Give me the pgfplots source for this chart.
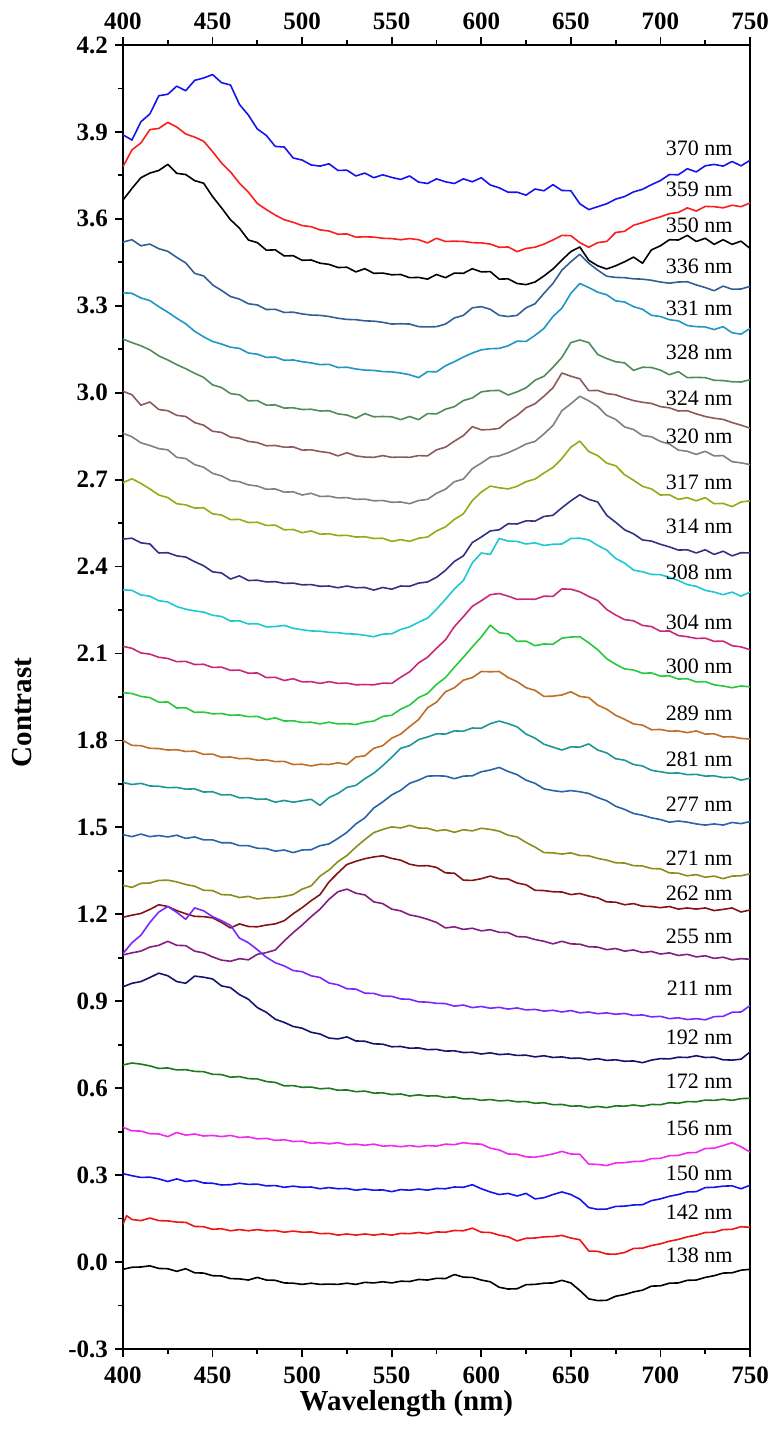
\documentclass[border=0pt]{standalone}
\usepackage{pgfplots}
\pgfplotsset{compat=1.18}
\usepackage{fontspec}
\setmainfont{Liberation Serif}

\definecolor{c370}{RGB}{20,20,240}
\definecolor{c359}{RGB}{250,30,30}
\definecolor{c350}{RGB}{0,0,0}
\definecolor{c336}{RGB}{50,95,150}
\definecolor{c331}{RGB}{30,150,200}
\definecolor{c328}{RGB}{80,140,90}
\definecolor{c324}{RGB}{140,90,90}
\definecolor{c320}{RGB}{128,128,128}
\definecolor{c317}{RGB}{150,170,20}
\definecolor{c314}{RGB}{50,50,130}
\definecolor{c308}{RGB}{30,200,210}
\definecolor{c304}{RGB}{200,40,120}
\definecolor{c300}{RGB}{40,200,60}
\definecolor{c289}{RGB}{190,110,40}
\definecolor{c281}{RGB}{30,150,150}
\definecolor{c277}{RGB}{40,100,170}
\definecolor{c271}{RGB}{140,140,30}
\definecolor{c262}{RGB}{130,20,20}
\definecolor{c255}{RGB}{130,30,130}
\definecolor{c211}{RGB}{120,40,255}
\definecolor{c192}{RGB}{20,20,110}
\definecolor{c172}{RGB}{30,120,30}
\definecolor{c156}{RGB}{240,40,240}
\definecolor{c150}{RGB}{20,20,240}
\definecolor{c142}{RGB}{240,20,20}
\definecolor{c138}{RGB}{0,0,0}

\newcommand{\tickfont}{\fontsize{12.5}{15}\selectfont\bfseries}
\newcommand{\labfont}{\fontsize{14.5}{17}\selectfont\bfseries}
\newcommand{\curvefont}{\fontsize{11}{13}\selectfont}

\begin{document}
\begin{tikzpicture}
\begin{axis}[
  name=ax,
  scale only axis,
  width=313.5pt, height=652pt,
  xmin=400, xmax=750, ymin=-0.3, ymax=4.2,
  xtick={400,450,500,550,600,650,700,750},
  ytick={-0.3,0,0.3,0.6,0.9,1.2,1.5,1.8,2.1,2.4,2.7,3.0,3.3,3.6,3.9,4.2},
  minor x tick num=1, minor y tick num=1,
  xtick pos=bottom, ytick pos=left,
  tick align=outside,
  major tick length=4pt, minor tick length=2.5pt,
  axis line style={line width=1pt},
  every tick/.style={black, line width=0.9pt},
  ticklabel style={font=\tickfont},
  /pgf/number format/assume math mode=true,
  xticklabel style={/pgf/number format/1000 sep={}, yshift=-1.5pt},
  yticklabel style={/pgf/number format/.cd, fixed, fixed zerofill, precision=1},
  xlabel={Wavelength (nm)},
  ylabel={Contrast},
  xlabel style={font=\labfont, at={(axis description cs:0.452,-0.042)}, anchor=center},
  ylabel style={font=\labfont, at={(axis description cs:-0.161,0.488)}, anchor=center},
  every axis plot/.append style={line width=0.8pt, line join=round, no markers},
]
\addplot[c370] coordinates {(400,3.89)(405,3.872)(410,3.935)(415,3.962)(420,4.025)(425,4.03)(430,4.058)(435,4.042)(440,4.078)(445,4.086)(450,4.098)(455,4.07)(460,4.062)(465,3.995)(470,3.958)(475,3.91)(480,3.888)(485,3.85)(490,3.848)(495,3.81)(500,3.803)(505,3.786)(510,3.782)(515,3.79)(520,3.767)(525,3.768)(530,3.748)(535,3.758)(540,3.742)(545,3.752)(550,3.743)(555,3.736)(560,3.748)(565,3.727)(570,3.722)(575,3.738)(580,3.728)(585,3.722)(590,3.738)(595,3.728)(600,3.742)(605,3.717)(610,3.707)(615,3.692)(620,3.692)(625,3.682)(630,3.703)(635,3.697)(640,3.718)(645,3.698)(650,3.697)(655,3.652)(660,3.632)(665,3.642)(670,3.652)(675,3.668)(680,3.677)(685,3.693)(690,3.702)(695,3.718)(700,3.732)(705,3.753)(710,3.752)(715,3.773)(720,3.762)(725,3.783)(730,3.788)(735,3.782)(740,3.798)(745,3.783)(750,3.802)};
\addplot[c359] coordinates {(400,3.78)(405,3.838)(410,3.862)(415,3.908)(420,3.912)(425,3.933)(430,3.917)(435,3.893)(440,3.882)(445,3.868)(450,3.832)(455,3.793)(460,3.762)(465,3.723)(470,3.692)(475,3.653)(480,3.632)(485,3.613)(490,3.597)(495,3.588)(500,3.577)(505,3.573)(510,3.562)(515,3.558)(520,3.547)(525,3.548)(530,3.537)(535,3.538)(540,3.537)(545,3.533)(550,3.532)(555,3.528)(560,3.532)(565,3.528)(570,3.517)(575,3.533)(580,3.522)(585,3.523)(590,3.522)(595,3.518)(600,3.517)(605,3.513)(610,3.502)(615,3.503)(620,3.487)(625,3.498)(630,3.502)(635,3.513)(640,3.527)(645,3.543)(650,3.542)(655,3.518)(660,3.502)(665,3.518)(670,3.522)(675,3.553)(680,3.557)(685,3.578)(690,3.587)(695,3.598)(700,3.607)(705,3.618)(710,3.622)(715,3.638)(720,3.627)(725,3.643)(730,3.642)(735,3.638)(740,3.647)(745,3.642)(750,3.655)};
\addplot[c350] coordinates {(400,3.665)(405,3.705)(410,3.742)(415,3.758)(420,3.767)(425,3.788)(430,3.757)(435,3.753)(440,3.732)(445,3.723)(450,3.677)(455,3.638)(460,3.597)(465,3.568)(470,3.527)(475,3.518)(480,3.492)(485,3.493)(490,3.472)(495,3.473)(500,3.457)(505,3.458)(510,3.447)(515,3.443)(520,3.432)(525,3.433)(530,3.417)(535,3.428)(540,3.412)(545,3.413)(550,3.407)(555,3.408)(560,3.397)(565,3.398)(570,3.392)(575,3.408)(580,3.397)(585,3.413)(590,3.412)(595,3.428)(600,3.417)(605,3.418)(610,3.392)(615,3.393)(620,3.377)(625,3.373)(630,3.382)(635,3.403)(640,3.427)(645,3.458)(650,3.487)(655,3.503)(660,3.457)(665,3.438)(670,3.427)(675,3.438)(680,3.452)(685,3.468)(690,3.447)(695,3.493)(700,3.507)(705,3.528)(710,3.527)(715,3.543)(720,3.522)(725,3.533)(730,3.512)(735,3.528)(740,3.512)(745,3.523)(750,3.498)};
\addplot[c336] coordinates {(400,3.52)(405,3.528)(410,3.507)(415,3.513)(420,3.497)(425,3.488)(430,3.467)(435,3.448)(440,3.412)(445,3.403)(450,3.372)(455,3.353)(460,3.332)(465,3.323)(470,3.307)(475,3.303)(480,3.287)(485,3.288)(490,3.277)(495,3.278)(500,3.272)(505,3.268)(510,3.267)(515,3.263)(520,3.257)(525,3.253)(530,3.252)(535,3.248)(540,3.247)(545,3.243)(550,3.237)(555,3.238)(560,3.237)(565,3.228)(570,3.227)(575,3.228)(580,3.237)(585,3.258)(590,3.267)(595,3.293)(600,3.297)(605,3.288)(610,3.267)(615,3.263)(620,3.267)(625,3.293)(630,3.307)(635,3.343)(640,3.377)(645,3.423)(650,3.452)(655,3.478)(660,3.447)(665,3.423)(670,3.402)(675,3.398)(680,3.397)(685,3.393)(690,3.392)(695,3.388)(700,3.382)(705,3.378)(710,3.382)(715,3.383)(720,3.372)(725,3.363)(730,3.352)(735,3.368)(740,3.357)(745,3.358)(750,3.367)};
\addplot[c331] coordinates {(400,3.345)(405,3.343)(410,3.327)(415,3.318)(420,3.297)(425,3.278)(430,3.257)(435,3.238)(440,3.212)(445,3.193)(450,3.177)(455,3.168)(460,3.157)(465,3.153)(470,3.137)(475,3.133)(480,3.122)(485,3.123)(490,3.112)(495,3.113)(500,3.107)(505,3.103)(510,3.097)(515,3.098)(520,3.087)(525,3.088)(530,3.082)(535,3.078)(540,3.077)(545,3.073)(550,3.072)(555,3.068)(560,3.062)(565,3.052)(570,3.073)(575,3.072)(580,3.093)(585,3.107)(590,3.123)(595,3.137)(600,3.148)(605,3.152)(610,3.153)(615,3.162)(620,3.178)(625,3.177)(630,3.198)(635,3.222)(640,3.263)(645,3.292)(650,3.343)(655,3.377)(660,3.363)(665,3.347)(670,3.338)(675,3.317)(680,3.313)(685,3.297)(690,3.288)(695,3.267)(700,3.263)(705,3.252)(710,3.248)(715,3.232)(720,3.228)(725,3.227)(730,3.218)(735,3.228)(740,3.207)(745,3.202)(750,3.222)};
\addplot[c328] coordinates {(400,3.185)(405,3.173)(410,3.162)(415,3.148)(420,3.127)(425,3.113)(430,3.097)(435,3.083)(440,3.067)(445,3.053)(450,3.027)(455,3.018)(460,2.997)(465,2.993)(470,2.972)(475,2.973)(480,2.957)(485,2.958)(490,2.947)(495,2.948)(500,2.942)(505,2.943)(510,2.937)(515,2.938)(520,2.927)(525,2.923)(530,2.912)(535,2.928)(540,2.917)(545,2.918)(550,2.917)(555,2.907)(560,2.918)(565,2.907)(570,2.928)(575,2.927)(580,2.943)(585,2.952)(590,2.973)(595,2.982)(600,3.003)(605,3.007)(610,3.008)(615,2.992)(620,3.003)(625,3.017)(630,3.043)(635,3.057)(640,3.088)(645,3.122)(650,3.173)(655,3.182)(660,3.173)(665,3.132)(670,3.118)(675,3.107)(680,3.103)(685,3.077)(690,3.088)(695,3.087)(700,3.078)(705,3.062)(710,3.073)(715,3.052)(720,3.053)(725,3.052)(730,3.043)(735,3.042)(740,3.038)(745,3.037)(750,3.045)};
\addplot[c324] coordinates {(400,3.005)(405,2.993)(410,2.957)(415,2.968)(420,2.942)(425,2.938)(430,2.922)(435,2.918)(440,2.897)(445,2.888)(450,2.867)(455,2.863)(460,2.847)(465,2.843)(470,2.832)(475,2.828)(480,2.817)(485,2.818)(490,2.812)(495,2.813)(500,2.802)(505,2.803)(510,2.797)(515,2.793)(520,2.782)(525,2.793)(530,2.782)(535,2.778)(540,2.777)(545,2.783)(550,2.777)(555,2.778)(560,2.777)(565,2.783)(570,2.782)(575,2.803)(580,2.812)(585,2.833)(590,2.852)(595,2.883)(600,2.872)(605,2.873)(610,2.877)(615,2.903)(620,2.922)(625,2.948)(630,2.962)(635,2.988)(640,3.017)(645,3.068)(650,3.057)(655,3.048)(660,3.007)(665,3.008)(670,2.997)(675,2.993)(680,2.982)(685,2.973)(690,2.967)(695,2.963)(700,2.952)(705,2.948)(710,2.937)(715,2.938)(720,2.927)(725,2.918)(730,2.912)(735,2.908)(740,2.897)(745,2.888)(750,2.878)};
\addplot[c320] coordinates {(400,2.86)(405,2.848)(410,2.827)(415,2.818)(420,2.807)(425,2.803)(430,2.777)(435,2.773)(440,2.752)(445,2.743)(450,2.722)(455,2.713)(460,2.697)(465,2.693)(470,2.682)(475,2.678)(480,2.667)(485,2.668)(490,2.657)(495,2.658)(500,2.647)(505,2.653)(510,2.642)(515,2.643)(520,2.637)(525,2.638)(530,2.632)(535,2.633)(540,2.627)(545,2.628)(550,2.622)(555,2.623)(560,2.617)(565,2.628)(570,2.632)(575,2.653)(580,2.667)(585,2.693)(590,2.702)(595,2.738)(600,2.757)(605,2.778)(610,2.782)(615,2.793)(620,2.807)(625,2.823)(630,2.832)(635,2.858)(640,2.887)(645,2.938)(650,2.962)(655,2.988)(660,2.972)(665,2.953)(670,2.922)(675,2.908)(680,2.882)(685,2.873)(690,2.852)(695,2.848)(700,2.832)(705,2.823)(710,2.802)(715,2.798)(720,2.787)(725,2.798)(730,2.782)(735,2.783)(740,2.762)(745,2.758)(750,2.752)};
\addplot[c317] coordinates {(400,2.69)(405,2.703)(410,2.687)(415,2.668)(420,2.647)(425,2.638)(430,2.617)(435,2.613)(440,2.602)(445,2.603)(450,2.582)(455,2.578)(460,2.562)(465,2.563)(470,2.552)(475,2.553)(480,2.542)(485,2.543)(490,2.527)(495,2.528)(500,2.517)(505,2.523)(510,2.512)(515,2.513)(520,2.507)(525,2.508)(530,2.502)(535,2.503)(540,2.497)(545,2.498)(550,2.487)(555,2.493)(560,2.487)(565,2.498)(570,2.502)(575,2.523)(580,2.537)(585,2.563)(590,2.582)(595,2.628)(600,2.657)(605,2.678)(610,2.672)(615,2.668)(620,2.677)(625,2.693)(630,2.702)(635,2.723)(640,2.742)(645,2.773)(650,2.812)(655,2.833)(660,2.797)(665,2.783)(670,2.757)(675,2.748)(680,2.717)(685,2.698)(690,2.677)(695,2.668)(700,2.647)(705,2.648)(710,2.632)(715,2.638)(720,2.627)(725,2.638)(730,2.617)(735,2.618)(740,2.607)(745,2.623)(750,2.627)};
\addplot[c314] coordinates {(400,2.495)(405,2.498)(410,2.482)(415,2.478)(420,2.447)(425,2.448)(430,2.437)(435,2.433)(440,2.417)(445,2.403)(450,2.382)(455,2.378)(460,2.357)(465,2.368)(470,2.352)(475,2.353)(480,2.347)(485,2.348)(490,2.342)(495,2.343)(500,2.337)(505,2.338)(510,2.332)(515,2.333)(520,2.327)(525,2.333)(530,2.327)(535,2.328)(540,2.319)(545,2.328)(550,2.322)(555,2.333)(560,2.332)(565,2.343)(570,2.347)(575,2.363)(580,2.387)(585,2.418)(590,2.437)(595,2.483)(600,2.502)(605,2.523)(610,2.527)(615,2.548)(620,2.547)(625,2.558)(630,2.557)(635,2.573)(640,2.577)(645,2.603)(650,2.627)(655,2.648)(660,2.632)(665,2.623)(670,2.577)(675,2.553)(680,2.527)(685,2.513)(690,2.492)(695,2.488)(700,2.477)(705,2.468)(710,2.457)(715,2.458)(720,2.447)(725,2.458)(730,2.442)(735,2.453)(740,2.437)(745,2.448)(750,2.447)};
\addplot[c308] coordinates {(400,2.32)(405,2.318)(410,2.302)(415,2.298)(420,2.282)(425,2.278)(430,2.262)(435,2.253)(440,2.247)(445,2.243)(450,2.232)(455,2.228)(460,2.212)(465,2.213)(470,2.202)(475,2.203)(480,2.192)(485,2.193)(490,2.197)(495,2.187)(500,2.182)(505,2.178)(510,2.177)(515,2.173)(520,2.172)(525,2.168)(530,2.167)(535,2.163)(540,2.158)(545,2.167)(550,2.168)(555,2.183)(560,2.192)(565,2.208)(570,2.222)(575,2.253)(580,2.287)(585,2.323)(590,2.352)(595,2.413)(600,2.447)(605,2.442)(610,2.497)(615,2.488)(620,2.487)(625,2.478)(630,2.482)(635,2.473)(640,2.477)(645,2.478)(650,2.497)(655,2.498)(660,2.492)(665,2.473)(670,2.457)(675,2.428)(680,2.412)(685,2.388)(690,2.382)(695,2.373)(700,2.372)(705,2.363)(710,2.352)(715,2.338)(720,2.332)(725,2.318)(730,2.312)(735,2.303)(740,2.312)(745,2.298)(750,2.312)};
\addplot[c304] coordinates {(400,2.125)(405,2.118)(410,2.102)(415,2.098)(420,2.087)(425,2.083)(430,2.072)(435,2.073)(440,2.062)(445,2.063)(450,2.052)(455,2.053)(460,2.042)(465,2.043)(470,2.032)(475,2.033)(480,2.017)(485,2.018)(490,2.007)(495,2.013)(500,2.002)(505,2.003)(510,1.997)(515,2.003)(520,1.997)(525,1.998)(530,1.992)(535,1.993)(540,1.992)(545,1.998)(550,1.997)(555,2.018)(560,2.037)(565,2.068)(570,2.087)(575,2.118)(580,2.147)(585,2.193)(590,2.227)(595,2.263)(600,2.282)(605,2.303)(610,2.307)(615,2.298)(620,2.287)(625,2.288)(630,2.287)(635,2.298)(640,2.297)(645,2.323)(650,2.322)(655,2.313)(660,2.297)(665,2.283)(670,2.252)(675,2.233)(680,2.217)(685,2.213)(690,2.197)(695,2.193)(700,2.177)(705,2.178)(710,2.162)(715,2.158)(720,2.152)(725,2.153)(730,2.142)(735,2.143)(740,2.127)(745,2.123)(750,2.113)};
\addplot[c300] coordinates {(400,1.965)(405,1.962)(410,1.952)(415,1.948)(420,1.932)(425,1.933)(430,1.912)(435,1.913)(440,1.897)(445,1.898)(450,1.892)(455,1.893)(460,1.887)(465,1.888)(470,1.882)(475,1.883)(480,1.872)(485,1.878)(490,1.867)(495,1.868)(500,1.862)(505,1.863)(510,1.857)(515,1.863)(520,1.857)(525,1.858)(530,1.855)(535,1.863)(540,1.867)(545,1.883)(550,1.887)(555,1.908)(560,1.922)(565,1.948)(570,1.962)(575,1.993)(580,2.017)(585,2.053)(590,2.087)(595,2.123)(600,2.157)(605,2.198)(610,2.172)(615,2.168)(620,2.142)(625,2.143)(630,2.127)(635,2.133)(640,2.132)(645,2.153)(650,2.157)(655,2.158)(660,2.137)(665,2.113)(670,2.082)(675,2.063)(680,2.047)(685,2.043)(690,2.032)(695,2.033)(700,2.022)(705,2.023)(710,2.012)(715,2.013)(720,2.002)(725,2.003)(730,1.992)(735,1.988)(740,1.982)(745,1.988)(750,1.985)};
\addplot[c289] coordinates {(400,1.80)(405,1.783)(410,1.782)(415,1.773)(420,1.772)(425,1.767)(430,1.768)(435,1.762)(440,1.763)(445,1.752)(450,1.753)(455,1.742)(460,1.743)(465,1.737)(470,1.738)(475,1.732)(480,1.733)(485,1.727)(490,1.728)(495,1.717)(500,1.718)(505,1.712)(510,1.718)(515,1.717)(520,1.723)(525,1.717)(530,1.743)(535,1.747)(540,1.773)(545,1.782)(550,1.808)(555,1.822)(560,1.848)(565,1.872)(570,1.913)(575,1.932)(580,1.968)(585,1.982)(590,2.008)(595,2.017)(600,2.038)(605,2.037)(610,2.038)(615,2.017)(620,2.003)(625,1.982)(630,1.973)(635,1.952)(640,1.953)(645,1.957)(650,1.968)(655,1.952)(660,1.948)(665,1.922)(670,1.908)(675,1.887)(680,1.873)(685,1.857)(690,1.853)(695,1.837)(700,1.838)(705,1.832)(710,1.833)(715,1.827)(720,1.833)(725,1.822)(730,1.823)(735,1.812)(740,1.813)(745,1.807)(750,1.805)};
\addplot[c281] coordinates {(400,1.655)(405,1.648)(410,1.652)(415,1.643)(420,1.642)(425,1.637)(430,1.638)(435,1.632)(440,1.633)(445,1.622)(450,1.623)(455,1.612)(460,1.613)(465,1.602)(470,1.603)(475,1.597)(480,1.598)(485,1.587)(490,1.593)(495,1.587)(500,1.592)(505,1.597)(510,1.576)(515,1.603)(520,1.617)(525,1.638)(530,1.645)(535,1.668)(540,1.687)(545,1.713)(550,1.742)(555,1.773)(560,1.782)(565,1.803)(570,1.812)(575,1.823)(580,1.822)(585,1.833)(590,1.832)(595,1.843)(600,1.842)(605,1.858)(610,1.867)(615,1.858)(620,1.847)(625,1.822)(630,1.808)(635,1.787)(640,1.777)(645,1.767)(650,1.778)(655,1.777)(660,1.788)(665,1.767)(670,1.757)(675,1.737)(680,1.732)(685,1.717)(690,1.712)(695,1.697)(700,1.692)(705,1.687)(710,1.688)(715,1.682)(720,1.683)(725,1.677)(730,1.678)(735,1.672)(740,1.673)(745,1.663)(750,1.67)};
\addplot[c277] coordinates {(400,1.475)(405,1.468)(410,1.477)(415,1.468)(420,1.472)(425,1.467)(430,1.473)(435,1.462)(440,1.467)(445,1.457)(450,1.457)(455,1.447)(460,1.447)(465,1.437)(470,1.437)(475,1.428)(480,1.427)(485,1.418)(490,1.422)(495,1.413)(500,1.422)(505,1.423)(510,1.437)(515,1.443)(520,1.462)(525,1.483)(530,1.512)(535,1.533)(540,1.567)(545,1.588)(550,1.612)(555,1.628)(560,1.652)(565,1.663)(570,1.677)(575,1.678)(580,1.677)(585,1.668)(590,1.677)(595,1.678)(600,1.692)(605,1.698)(610,1.707)(615,1.693)(620,1.682)(625,1.663)(630,1.652)(635,1.633)(640,1.627)(645,1.623)(650,1.627)(655,1.623)(660,1.617)(665,1.603)(670,1.592)(675,1.573)(680,1.562)(685,1.548)(690,1.542)(695,1.533)(700,1.527)(705,1.518)(710,1.522)(715,1.518)(720,1.512)(725,1.508)(730,1.512)(735,1.508)(740,1.517)(745,1.513)(750,1.52)};
\addplot[c271] coordinates {(400,1.30)(405,1.293)(410,1.307)(415,1.308)(420,1.317)(425,1.318)(430,1.312)(435,1.303)(440,1.297)(445,1.283)(450,1.282)(455,1.268)(460,1.267)(465,1.258)(470,1.262)(475,1.253)(480,1.257)(485,1.258)(490,1.262)(495,1.268)(500,1.287)(505,1.298)(510,1.332)(515,1.353)(520,1.382)(525,1.403)(530,1.432)(535,1.458)(540,1.482)(545,1.493)(550,1.502)(555,1.498)(560,1.507)(565,1.498)(570,1.497)(575,1.488)(580,1.492)(585,1.483)(590,1.492)(595,1.488)(600,1.497)(605,1.493)(610,1.487)(615,1.473)(620,1.467)(625,1.448)(630,1.432)(635,1.413)(640,1.412)(645,1.408)(650,1.412)(655,1.403)(660,1.402)(665,1.393)(670,1.387)(675,1.378)(680,1.377)(685,1.368)(690,1.367)(695,1.358)(700,1.357)(705,1.343)(710,1.342)(715,1.333)(720,1.337)(725,1.328)(730,1.332)(735,1.323)(740,1.332)(745,1.333)(750,1.34)};
\addplot[c262] coordinates {(400,1.19)(405,1.197)(410,1.203)(415,1.217)(420,1.233)(425,1.227)(430,1.213)(435,1.202)(440,1.193)(445,1.192)(450,1.188)(455,1.172)(460,1.153)(465,1.167)(470,1.158)(475,1.157)(480,1.163)(485,1.167)(490,1.178)(495,1.202)(500,1.223)(505,1.247)(510,1.268)(515,1.312)(520,1.343)(525,1.372)(530,1.383)(535,1.392)(540,1.398)(545,1.402)(550,1.393)(555,1.387)(560,1.373)(565,1.367)(570,1.368)(575,1.362)(580,1.343)(585,1.342)(590,1.318)(595,1.317)(600,1.323)(605,1.332)(610,1.323)(615,1.322)(620,1.308)(625,1.302)(630,1.283)(635,1.282)(640,1.278)(645,1.277)(650,1.268)(655,1.272)(660,1.263)(665,1.257)(670,1.243)(675,1.242)(680,1.233)(685,1.237)(690,1.228)(695,1.227)(700,1.223)(705,1.227)(710,1.218)(715,1.222)(720,1.218)(725,1.222)(730,1.213)(735,1.217)(740,1.222)(745,1.208)(750,1.215)};
\addplot[c255] coordinates {(400,1.06)(405,1.067)(410,1.073)(415,1.087)(420,1.093)(425,1.107)(430,1.093)(435,1.092)(440,1.073)(445,1.067)(450,1.053)(455,1.042)(460,1.038)(465,1.047)(470,1.043)(475,1.062)(480,1.068)(485,1.077)(490,1.108)(495,1.137)(500,1.163)(505,1.192)(510,1.218)(515,1.252)(520,1.278)(525,1.287)(530,1.273)(535,1.267)(540,1.243)(545,1.237)(550,1.218)(555,1.212)(560,1.198)(565,1.192)(570,1.183)(575,1.172)(580,1.153)(585,1.157)(590,1.148)(595,1.152)(600,1.143)(605,1.147)(610,1.138)(615,1.137)(620,1.123)(625,1.122)(630,1.113)(635,1.107)(640,1.098)(645,1.107)(650,1.098)(655,1.097)(660,1.088)(665,1.087)(670,1.078)(675,1.082)(680,1.073)(685,1.077)(690,1.068)(695,1.072)(700,1.063)(705,1.067)(710,1.058)(715,1.062)(720,1.053)(725,1.057)(730,1.048)(735,1.052)(740,1.043)(745,1.047)(750,1.045)};
\addplot[c211] coordinates {(400,1.065)(405,1.102)(410,1.128)(415,1.172)(420,1.208)(425,1.227)(430,1.207)(435,1.183)(440,1.222)(445,1.212)(450,1.192)(455,1.178)(460,1.162)(465,1.118)(470,1.102)(475,1.078)(480,1.052)(485,1.033)(490,1.022)(495,1.006)(500,1.002)(505,0.988)(510,0.982)(515,0.963)(520,0.957)(525,0.943)(530,0.942)(535,0.928)(540,0.927)(545,0.918)(550,0.917)(555,0.908)(560,0.907)(565,0.898)(570,0.897)(575,0.893)(580,0.892)(585,0.883)(590,0.887)(595,0.878)(600,0.882)(605,0.876)(610,0.879)(615,0.873)(620,0.877)(625,0.87)(630,0.872)(635,0.866)(640,0.869)(645,0.863)(650,0.868)(655,0.86)(660,0.863)(665,0.857)(670,0.86)(675,0.855)(680,0.858)(685,0.851)(690,0.853)(695,0.846)(700,0.848)(705,0.84)(710,0.843)(715,0.837)(720,0.84)(725,0.836)(730,0.847)(735,0.848)(740,0.862)(745,0.863)(750,0.885)};
\addplot[c192] coordinates {(400,0.95)(405,0.962)(410,0.968)(415,0.982)(420,0.997)(425,0.988)(430,0.968)(435,0.962)(440,0.987)(445,0.983)(450,0.977)(455,0.953)(460,0.947)(465,0.923)(470,0.907)(475,0.878)(480,0.862)(485,0.838)(490,0.827)(495,0.813)(500,0.807)(505,0.793)(510,0.787)(515,0.773)(520,0.77)(525,0.777)(530,0.763)(535,0.762)(540,0.753)(545,0.752)(550,0.743)(555,0.744)(560,0.738)(565,0.739)(570,0.733)(575,0.734)(580,0.728)(585,0.729)(590,0.723)(595,0.724)(600,0.718)(605,0.722)(610,0.716)(615,0.718)(620,0.713)(625,0.714)(630,0.708)(635,0.712)(640,0.706)(645,0.708)(650,0.703)(655,0.704)(660,0.698)(665,0.702)(670,0.696)(675,0.698)(680,0.693)(685,0.694)(690,0.688)(695,0.697)(700,0.702)(705,0.701)(710,0.707)(715,0.706)(720,0.712)(725,0.706)(730,0.707)(735,0.698)(740,0.697)(745,0.7)(750,0.725)};
\addplot[c172] coordinates {(400,0.68)(405,0.687)(410,0.683)(415,0.677)(420,0.668)(425,0.67)(430,0.663)(435,0.664)(440,0.658)(445,0.657)(450,0.648)(455,0.647)(460,0.638)(465,0.64)(470,0.633)(475,0.632)(480,0.623)(485,0.62)(490,0.608)(495,0.609)(500,0.603)(505,0.604)(510,0.598)(515,0.6)(520,0.593)(525,0.594)(530,0.588)(535,0.59)(540,0.583)(545,0.584)(550,0.578)(555,0.58)(560,0.573)(565,0.577)(570,0.573)(575,0.574)(580,0.568)(585,0.57)(590,0.563)(595,0.564)(600,0.558)(605,0.561)(610,0.556)(615,0.558)(620,0.553)(625,0.554)(630,0.548)(635,0.55)(640,0.543)(645,0.544)(650,0.538)(655,0.539)(660,0.533)(665,0.537)(670,0.533)(675,0.539)(680,0.538)(685,0.542)(690,0.538)(695,0.544)(700,0.543)(705,0.55)(710,0.548)(715,0.554)(720,0.553)(725,0.559)(730,0.558)(735,0.562)(740,0.558)(745,0.564)(750,0.565)};
\addplot[c156] coordinates {(400,0.465)(405,0.453)(410,0.452)(415,0.443)(420,0.442)(425,0.433)(430,0.447)(435,0.438)(440,0.442)(445,0.435)(450,0.437)(455,0.433)(460,0.437)(465,0.43)(470,0.432)(475,0.425)(480,0.427)(485,0.42)(490,0.422)(495,0.416)(500,0.417)(505,0.41)(510,0.412)(515,0.408)(520,0.412)(525,0.405)(530,0.407)(535,0.403)(540,0.407)(545,0.4)(550,0.402)(555,0.398)(560,0.402)(565,0.398)(570,0.402)(575,0.4)(580,0.407)(585,0.405)(590,0.412)(595,0.408)(600,0.407)(605,0.393)(610,0.387)(615,0.373)(620,0.372)(625,0.363)(630,0.362)(635,0.367)(640,0.373)(645,0.382)(650,0.373)(655,0.372)(660,0.338)(665,0.337)(670,0.333)(675,0.342)(680,0.343)(685,0.347)(690,0.348)(695,0.357)(700,0.358)(705,0.367)(710,0.368)(715,0.377)(720,0.378)(725,0.392)(730,0.393)(735,0.402)(740,0.412)(745,0.398)(750,0.38)};
\addplot[c150] coordinates {(400,0.305)(405,0.298)(410,0.292)(415,0.293)(420,0.287)(425,0.278)(430,0.287)(435,0.278)(440,0.282)(445,0.273)(450,0.272)(455,0.266)(460,0.267)(465,0.272)(470,0.268)(475,0.269)(480,0.263)(485,0.264)(490,0.258)(495,0.262)(500,0.258)(505,0.259)(510,0.253)(515,0.257)(520,0.253)(525,0.254)(530,0.248)(535,0.252)(540,0.248)(545,0.249)(550,0.243)(555,0.25)(560,0.248)(565,0.252)(570,0.248)(575,0.254)(580,0.253)(585,0.259)(590,0.258)(595,0.267)(600,0.253)(605,0.242)(610,0.233)(615,0.237)(620,0.228)(625,0.237)(630,0.218)(635,0.222)(640,0.233)(645,0.242)(650,0.233)(655,0.217)(660,0.188)(665,0.182)(670,0.183)(675,0.192)(680,0.193)(685,0.197)(690,0.198)(695,0.212)(700,0.218)(705,0.227)(710,0.233)(715,0.242)(720,0.243)(725,0.257)(730,0.258)(735,0.262)(740,0.263)(745,0.253)(750,0.265)};
\addplot[c142] coordinates {(400,0.13)(402,0.16)(405,0.147)(410,0.143)(415,0.152)(420,0.143)(425,0.142)(430,0.138)(435,0.137)(440,0.123)(445,0.122)(450,0.113)(455,0.115)(460,0.108)(465,0.112)(470,0.108)(475,0.112)(480,0.108)(485,0.109)(490,0.103)(495,0.107)(500,0.103)(505,0.104)(510,0.098)(515,0.099)(520,0.093)(525,0.097)(530,0.093)(535,0.097)(540,0.093)(545,0.097)(550,0.093)(555,0.099)(560,0.098)(565,0.102)(570,0.098)(575,0.104)(580,0.103)(585,0.109)(590,0.108)(595,0.117)(600,0.103)(605,0.102)(610,0.093)(615,0.087)(620,0.073)(625,0.082)(630,0.083)(635,0.087)(640,0.088)(645,0.092)(650,0.083)(655,0.077)(660,0.038)(665,0.037)(670,0.028)(675,0.027)(680,0.033)(685,0.047)(690,0.048)(695,0.057)(700,0.063)(705,0.072)(710,0.078)(715,0.087)(720,0.093)(725,0.102)(730,0.103)(735,0.112)(740,0.113)(745,0.122)(750,0.12)};
\addplot[c138] coordinates {(400,-0.025)(405,-0.018)(410,-0.017)(415,-0.013)(420,-0.022)(425,-0.023)(430,-0.032)(435,-0.023)(440,-0.037)(445,-0.038)(450,-0.047)(455,-0.048)(460,-0.057)(465,-0.058)(470,-0.062)(475,-0.053)(480,-0.062)(485,-0.063)(490,-0.072)(495,-0.073)(500,-0.077)(505,-0.073)(510,-0.077)(515,-0.076)(520,-0.077)(525,-0.073)(530,-0.077)(535,-0.07)(540,-0.072)(545,-0.068)(550,-0.072)(555,-0.066)(560,-0.067)(565,-0.06)(570,-0.062)(575,-0.056)(580,-0.057)(585,-0.043)(590,-0.052)(595,-0.053)(600,-0.062)(605,-0.068)(610,-0.087)(615,-0.093)(620,-0.092)(625,-0.078)(630,-0.077)(635,-0.073)(640,-0.072)(645,-0.063)(650,-0.072)(655,-0.098)(660,-0.127)(665,-0.133)(670,-0.132)(675,-0.118)(680,-0.112)(685,-0.103)(690,-0.097)(695,-0.083)(700,-0.082)(705,-0.073)(710,-0.072)(715,-0.063)(720,-0.062)(725,-0.053)(730,-0.047)(735,-0.038)(740,-0.037)(745,-0.028)(750,-0.025)};

\begin{scope}[every node/.style={anchor=east, inner sep=0pt, font=\curvefont}]
\node at (axis cs:740.5,3.845) {370 nm};
\node at (axis cs:740.5,3.703) {359 nm};
\node at (axis cs:740.5,3.579) {350 nm};
\node at (axis cs:740.5,3.435) {336 nm};
\node at (axis cs:740.5,3.292) {331 nm};
\node at (axis cs:740.5,3.141) {328 nm};
\node at (axis cs:740.5,2.982) {324 nm};
\node at (axis cs:740.5,2.851) {320 nm};
\node at (axis cs:740.5,2.692) {317 nm};
\node at (axis cs:740.5,2.540) {314 nm};
\node at (axis cs:740.5,2.382) {308 nm};
\node at (axis cs:740.5,2.209) {304 nm};
\node at (axis cs:740.5,2.057) {300 nm};
\node at (axis cs:740.5,1.895) {289 nm};
\node at (axis cs:740.5,1.734) {281 nm};
\node at (axis cs:740.5,1.581) {277 nm};
\node at (axis cs:740.5,1.395) {271 nm};
\node at (axis cs:740.5,1.274) {262 nm};
\node at (axis cs:740.5,1.125) {255 nm};
\node at (axis cs:740.5,0.946) {211 nm};
\node at (axis cs:740.5,0.777) {192 nm};
\node at (axis cs:740.5,0.625) {172 nm};
\node at (axis cs:740.5,0.463) {156 nm};
\node at (axis cs:740.5,0.308) {150 nm};
\node at (axis cs:740.5,0.173) {142 nm};
\node at (axis cs:740.5,0.025) {138 nm};
\end{scope}
\end{axis}

\begin{axis}[
  at={(ax.south west)}, anchor=south west,
  scale only axis,
  width=313.5pt, height=652pt,
  xmin=400, xmax=750, ymin=-0.3, ymax=4.2,
  axis x line*=top, axis y line=none,
  xtick={400,450,500,550,600,650,700,750},
  minor x tick num=1,
  tick align=outside,
  major tick length=4pt, minor tick length=2.5pt,
  axis line style={line width=1pt, -},
  every tick/.style={black, line width=0.9pt},
  ticklabel style={font=\tickfont},
  /pgf/number format/assume math mode=true,
  xticklabel style={/pgf/number format/1000 sep={}},
]
\end{axis}

\path ([shift={(-61.5pt,-46pt)}]ax.south west) rectangle ([shift={(8pt,22.5pt)}]ax.north east);
\end{tikzpicture}
\end{document}
